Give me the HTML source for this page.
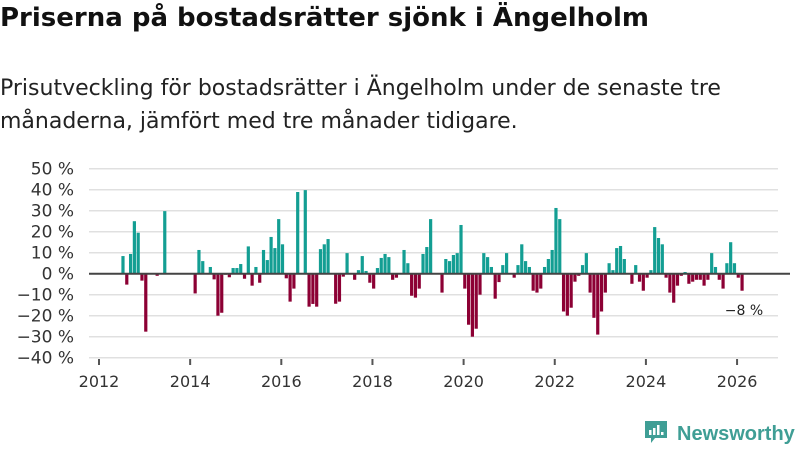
<!DOCTYPE html>
<html><head><meta charset="utf-8"><style>
body{margin:0;width:800px;height:450px;background:#fff;overflow:hidden;font-family:"Liberation Sans","DejaVu Sans",sans-serif;color:#111}
h1{position:absolute;left:0;top:3px;margin:0;font-size:26px;font-weight:bold;font-family:"DejaVu Sans","Liberation Sans",sans-serif;letter-spacing:0px}
p{position:absolute;left:0;top:72px;margin:0;font-size:22px;line-height:33px;width:760px;font-family:"DejaVu Sans","Liberation Sans",sans-serif;letter-spacing:0px;color:#222}
svg{position:absolute;left:0;top:0}
</style></head><body>
<h1>Priserna på bostadsrätter sjönk i Ängelholm</h1>
<p>Prisutveckling för bostadsrätter i Ängelholm under de senaste tre månaderna, jämfört med tre månader tidigare.</p>
<svg id="chart" width="800" height="450"></svg>
<script>
const yTicks=[50,40,30,20,10,0,-10,-20,-30,-40];
const yearLabels=[2012,2014,2016,2018,2020,2022,2024,2026];
const monthIdx=[6,7,8,9,10,11,12,15,17,25,26,27,29,30,31,32,33,34,35,36,37,38,39,40,41,42,43,44,45,46,47,48,49,50,51,52,54,55,56,57,58,59,60,62,63,64,65,67,68,69,70,71,72,73,74,75,76,77,78,80,81,82,83,84,85,86,87,90,91,92,93,94,95,96,97,98,99,100,101,102,103,104,105,106,107,109,110,111,112,113,114,115,116,117,118,119,120,121,122,123,124,125,126,127,128,129,130,131,132,133,134,135,136,137,138,140,141,142,143,144,145,146,147,148,149,150,151,152,153,154,155,156,157,158,159,160,161,162,163,164,165,166,167,168,169];
const values=[8.4,-5.2,9.4,25,19.5,-3.3,-27.6,-1,29.8,-9.4,11.3,6,3.2,-2.7,-20,-18.6,-0.5,-1.7,2.7,2.7,4.6,-2.4,13,-5.7,3.2,-4.3,11.3,6.5,17.5,12.2,26,14,-2.2,-13.3,-7.1,38.9,39.8,-15.7,-14.4,-15.7,11.7,14,16.5,-14.3,-13.3,-1.4,9.8,-2.9,1.7,8.4,1.3,-4.3,-7.1,2.7,7.5,9.4,7.9,-2.9,-1.9,11.3,5,-10.5,-11.4,-7.1,9.4,12.7,26,-9,7,6,8.9,9.8,23.2,-7.1,-24.3,-30,-26.2,-10,9.8,7.9,3.2,-11.9,-4,4.1,9.8,-1.9,4.1,14,6,3.2,-8.1,-9,-7.1,3.2,7,11.3,31.3,26,-18,-20,-16.2,-3.8,-1,4.1,9.8,-9,-21,-29,-18,-9,5,1.7,12.2,13.2,7,-4.8,4.1,-3.8,-8.1,-1.9,1.7,22.2,17,14,-1.9,-9,-13.8,-5.7,-1,0.8,-4.8,-3.8,-2.9,-2.9,-5.7,-2.9,9.8,3.2,-2.9,-7.1,5,15,5,-1.9,-8.1];
const lastLabel="−8 %";
const svg=document.getElementById('chart');
const NS='http://www.w3.org/2000/svg';
const y=v=>273.7-v*2.1;
const x=m=>99+m*3.798;
function mk(t,a,txt){const e=document.createElementNS(NS,t);for(const k in a)e.setAttribute(k,a[k]);if(txt!==undefined)e.textContent=txt;svg.appendChild(e);return e;}
yTicks.forEach(v=>{
 const g=mk('line',{x1:89,x2:778,y1:y(v),y2:y(v),stroke:'#e0e0e0','stroke-width':1.5});
 
 
 const t=mk('text',{x:74,y:y(v)+6,'text-anchor':'end','font-size':17,fill:'#333','font-family':'DejaVu Sans, Liberation Sans, sans-serif'},(v<0?'−'+(-v):v)+' %');
 
 
});
yearLabels.forEach(yr=>{
 const m=(yr-2012)*12;
 const tk=mk('line',{x1:x(m),x2:x(m),y1:359,y2:365,stroke:'#555','stroke-width':2});
 
 
 const t=mk('text',{x:x(m),y:387,'text-anchor':'middle','font-size':16,fill:'#333','font-family':'DejaVu Sans, Liberation Sans, sans-serif'},yr);
 
 
});
values.forEach((v,i)=>{
 const cx=x(monthIdx[i])+1.2;
 const r=mk('rect',{x:cx-1.6,width:3.2,y:Math.min(y(v),y(0)),height:Math.abs(y(v)-y(0)),fill:v>=0?'#139e93':'#8c0034'});
 
 
});
const z=mk('line',{x1:89,x2:790,y1:y(0),y2:y(0),stroke:'#444','stroke-width':2});


const lb=mk('text',{x:744,y:315,'text-anchor':'middle','font-size':14,fill:'#222','font-family':'DejaVu Sans, Liberation Sans, sans-serif'},lastLabel);


</script>
<svg width="800" height="450" style="pointer-events:none">
 <path d="M645 421h22v17h-12l-4 5v-5h-6z" fill="#3f9e95"/>
 <rect x="649" y="430" width="2.5" height="5" fill="#fff"/><rect x="653" y="428" width="2.5" height="7" fill="#fff"/><rect x="657" y="425" width="2.5" height="10" fill="#fff"/><rect x="661" y="432" width="2.5" height="3" fill="#fff"/>
 <text x="677" y="440" font-size="20" font-weight="bold" fill="#3f9e95" font-family="Liberation Sans, sans-serif">Newsworthy</text>
</svg>
</body></html>
